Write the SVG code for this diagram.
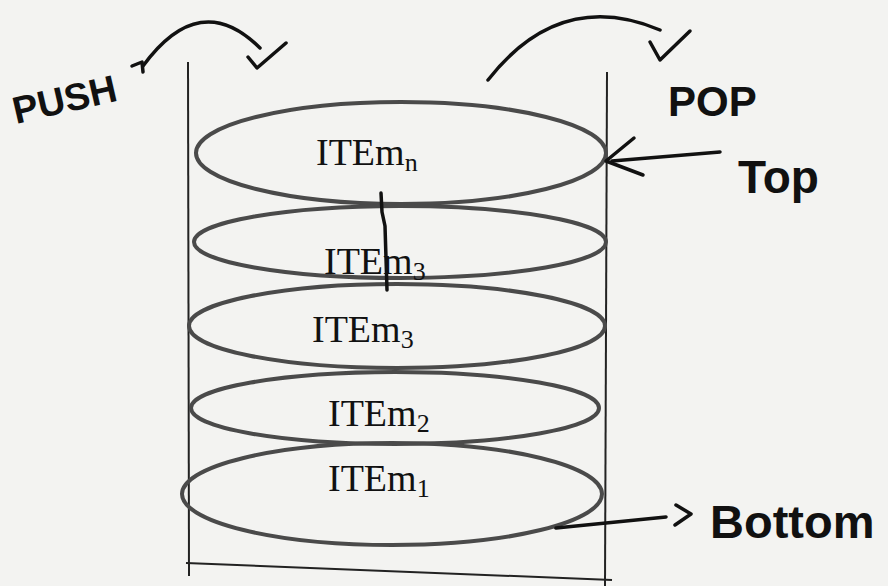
<svg xmlns="http://www.w3.org/2000/svg" width="888" height="586" viewBox="0 0 888 586">
<style>
.ink{fill:none;stroke:#111;stroke-width:3.5;stroke-linecap:round;stroke-linejoin:round}
.wall{fill:none;stroke:#222;stroke-width:2}
.disc{fill:none;stroke:#4a4a4a;stroke-width:4}
.lbl{font-family:"Liberation Sans","DejaVu Sans",sans-serif;fill:#111;font-weight:bold}
.item{font-family:"Liberation Serif",serif;font-size:38px;fill:#111}
</style>
<rect width="888" height="586" fill="#f3f3f1"/>
<g id="stack">
<line class="wall" x1="188" y1="62" x2="189" y2="576"/>
<line class="wall" x1="607" y1="72" x2="605" y2="586"/>
<line class="wall" x1="186" y1="563" x2="612" y2="580"/>
</g>
<g id="itemn"><ellipse class="disc" cx="401" cy="153" rx="205" ry="51"/><text class="item" x="316" y="165">ITEm<tspan font-size="26" dy="6">n</tspan></text></g>
<g id="item3a"><ellipse class="disc" cx="400" cy="242" rx="206" ry="36"/><text class="item" x="324" y="274">ITEm<tspan font-size="26" dy="6">3</tspan></text></g>
<g id="item3b"><ellipse class="disc" cx="397" cy="326" rx="208" ry="42"/><text class="item" x="312" y="342">ITEm<tspan font-size="26" dy="6">3</tspan></text></g>
<g id="item2"><ellipse class="disc" cx="395" cy="408" rx="204" ry="36"/><text class="item" x="328" y="426">ITEm<tspan font-size="26" dy="6">2</tspan></text></g>
<g id="item1"><ellipse class="disc" cx="392" cy="494" rx="210" ry="51"/><text class="item" x="328" y="491">ITEm<tspan font-size="26" dy="6">1</tspan></text></g>
<g id="connectors">
<path class="ink" stroke-width="2" d="M381 193 L382 212 L385 226 L387 290"/>
<path class="ink" d="M143 66 Q200 -12 260 48"/>
<path class="ink" d="M132 66 L142 62 L143 72"/>
<path class="ink" d="M248 57 L257 68 L286 43"/>
<path class="ink" d="M488 80 Q560 -12 660 30"/>
<path class="ink" d="M650 42 L660 60 L690 31"/>
<path class="ink" d="M720 152 L612 161"/>
<path class="ink" d="M634 138 L606 161 L643 175"/>
<path class="ink" d="M556 528 L666 517"/>
<path class="ink" d="M676 505 L691 514 L675 525"/>
</g>
<g id="labels">
<text class="lbl" font-size="38" transform="translate(16,124) rotate(-13)">PUSH</text>
<text class="lbl" font-size="42" x="668" y="116">POP</text>
<text class="lbl" font-size="46" x="738" y="193">Top</text>
<text class="lbl" font-size="47" x="710" y="538">Bottom</text>
</g>
</svg>
